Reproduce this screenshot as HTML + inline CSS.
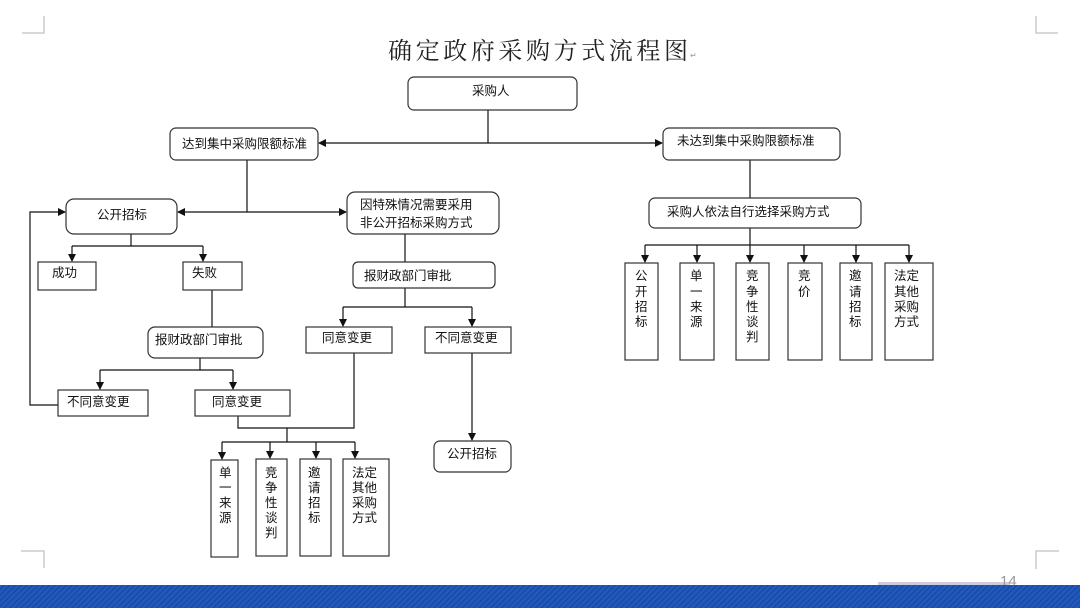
<!DOCTYPE html>
<html><head><meta charset="utf-8"><style>
html,body{margin:0;padding:0;background:#fff;}
svg{display:block;}
text{font-family:"Liberation Sans","Noto Sans CJK SC","WenQuanYi Zen Hei",sans-serif;font-size:12.5px;fill:#111;}
.r{fill:#fff;stroke:#333;stroke-width:1.2;}
.l{stroke:#111;stroke-width:1.2;fill:none;}
.m{fill:#999;font-size:8px;}
</style></head><body>
<svg width="1080" height="608" viewBox="0 0 1080 608" xmlns="http://www.w3.org/2000/svg">
<defs>
<marker id="a" markerWidth="8" markerHeight="8" refX="7" refY="4" orient="auto" markerUnits="userSpaceOnUse"><path d="M0,0 L8,4 L0,8 z" fill="#111"/></marker>
<pattern id="st" width="4" height="4" patternUnits="userSpaceOnUse" patternTransform="rotate(45)"><rect width="4" height="4" fill="#2159bd"/><rect width="1.5" height="4" fill="#1a4aa6"/></pattern>
</defs>
<!-- corners -->
<path d="M22,33 H44 V16" stroke="#ccc" stroke-width="1.5" fill="none"/>
<path d="M1058,33 H1036 V16" stroke="#ccc" stroke-width="1.5" fill="none"/>
<path d="M21,551 H44 V568" stroke="#ccc" stroke-width="1.5" fill="none"/>
<path d="M1059,551 H1036 V569" stroke="#ccc" stroke-width="1.5" fill="none"/>
<!-- title -->
<text x="388" y="59" style="font-size:24px;font-family:'Liberation Serif','Noto Serif CJK SC',serif;fill:#222" textLength="300">确定政府采购方式流程图</text><text x="690" y="58" class="m">↵</text>

<!-- connectors -->
<path class="l" d="M488,110 V143"/>
<path class="l" d="M488,143 H319" marker-end="url(#a)"/>
<path class="l" d="M488,143 H662" marker-end="url(#a)"/>
<path class="l" d="M247,160 V212"/>
<path class="l" d="M247,212 H178" marker-end="url(#a)"/>
<path class="l" d="M247,212 H346" marker-end="url(#a)"/>
<path class="l" d="M131,234 V246 M72,246 H203"/>
<path class="l" d="M72,246 V261" marker-end="url(#a)"/>
<path class="l" d="M203,246 V261" marker-end="url(#a)"/>
<path class="l" d="M212,290 V327"/>
<path class="l" d="M200,358 V370 M100,370 H233"/>
<path class="l" d="M100,370 V389" marker-end="url(#a)"/>
<path class="l" d="M233,370 V389" marker-end="url(#a)"/>
<path class="l" d="M58,405 H30 V212 H65" marker-end="url(#a)"/>
<path class="l" d="M405,234 V262"/>
<path class="l" d="M405,288 V307 M343,307 H472"/>
<path class="l" d="M343,307 V326" marker-end="url(#a)"/>
<path class="l" d="M472,307 V326" marker-end="url(#a)"/>
<path class="l" d="M472,353 V440" marker-end="url(#a)"/>
<path class="l" d="M238,416 V428 H354 V353"/>
<path class="l" d="M287,428 V442 M222,442 H355"/>
<path class="l" d="M222,442 V459" marker-end="url(#a)"/>
<path class="l" d="M270,442 V458" marker-end="url(#a)"/>
<path class="l" d="M316,442 V458" marker-end="url(#a)"/>
<path class="l" d="M355,442 V458" marker-end="url(#a)"/>
<path class="l" d="M750,160 V198"/>
<path class="l" d="M750,228 V245 M645,245 H909"/>
<path class="l" d="M645,245 V262" marker-end="url(#a)"/>
<path class="l" d="M697,245 V262" marker-end="url(#a)"/>
<path class="l" d="M750,245 V262" marker-end="url(#a)"/>
<path class="l" d="M804,245 V262" marker-end="url(#a)"/>
<path class="l" d="M856,245 V262" marker-end="url(#a)"/>
<path class="l" d="M909,245 V262" marker-end="url(#a)"/>

<!-- boxes -->
<rect class="r" x="408" y="77" width="169" height="33" rx="6"/><text x="472" y="95">采购人</text>
<rect class="r" x="170" y="128" width="148" height="32" rx="6"/><text x="182" y="148">达到集中采购限额标准</text>
<rect class="r" x="663" y="128" width="177" height="32" rx="6"/><text x="677" y="145">未达到集中采购限额标准</text>
<rect class="r" x="66" y="199" width="111" height="35" rx="8"/><text x="97" y="219">公开招标</text>
<rect class="r" x="347" y="192" width="152" height="42" rx="8"/><text x="360" y="209">因特殊情况需要采用</text><text x="360" y="227">非公开招标采购方式</text>
<rect class="r" x="38" y="262" width="58" height="28"/><text x="52" y="277">成功</text>
<rect class="r" x="183" y="262" width="59" height="28"/><text x="192" y="277">失败</text>
<rect class="r" x="148" y="327" width="115" height="31" rx="7"/><text x="155" y="344">报财政部门审批</text>
<rect class="r" x="353" y="262" width="142" height="26" rx="5"/><text x="364" y="280">报财政部门审批</text>
<rect class="r" x="58" y="390" width="90" height="26"/><text x="67" y="406">不同意变更</text>
<rect class="r" x="195" y="390" width="95" height="26"/><text x="212" y="406">同意变更</text>
<rect class="r" x="306" y="327" width="86" height="26"/><text x="322" y="342">同意变更</text>
<rect class="r" x="425" y="327" width="86" height="26"/><text x="435" y="342">不同意变更</text>
<rect class="r" x="434" y="441" width="77" height="31" rx="6"/><text x="447" y="458">公开招标</text>
<rect class="r" x="649" y="198" width="212" height="30" rx="6"/><text x="667" y="216">采购人依法自行选择采购方式</text>

<!-- bottom vertical boxes -->
<rect class="r" x="211" y="460" width="27" height="97"/>
<text x="219" y="477">单</text><text x="219" y="492">一</text><text x="219" y="507">来</text><text x="219" y="522">源</text>
<rect class="r" x="256" y="459" width="31" height="97"/>
<text x="265" y="477">竞</text><text x="265" y="492">争</text><text x="265" y="507">性</text><text x="265" y="522">谈</text><text x="265" y="537">判</text>
<rect class="r" x="300" y="459" width="31" height="97"/>
<text x="308" y="477">邀</text><text x="308" y="492">请</text><text x="308" y="507">招</text><text x="308" y="522">标</text>
<rect class="r" x="343" y="459" width="46" height="97"/>
<text x="352" y="477">法定</text><text x="352" y="492">其他</text><text x="352" y="507">采购</text><text x="352" y="522">方式</text>

<rect class="r" x="625" y="263" width="33" height="97"/>
<text x="635" y="280">公</text><text x="635" y="296">开</text><text x="635" y="311">招</text><text x="635" y="326">标</text>
<rect class="r" x="680" y="263" width="34" height="97"/>
<text x="690" y="280">单</text><text x="690" y="296">一</text><text x="690" y="311">来</text><text x="690" y="326">源</text>
<rect class="r" x="736" y="263" width="33" height="97"/>
<text x="746" y="280">竞</text><text x="746" y="296">争</text><text x="746" y="311">性</text><text x="746" y="326">谈</text><text x="746" y="341">判</text>
<rect class="r" x="788" y="263" width="34" height="97"/>
<text x="798" y="280">竞</text><text x="798" y="296">价</text>
<rect class="r" x="840" y="263" width="32" height="97"/>
<text x="849" y="280">邀</text><text x="849" y="296">请</text><text x="849" y="311">招</text><text x="849" y="326">标</text>
<rect class="r" x="885" y="263" width="48" height="97"/>
<text x="894" y="280">法定</text><text x="894" y="296">其他</text><text x="894" y="311">采购</text><text x="894" y="326">方式</text>

<!-- footer -->
<rect x="878" y="582" width="132" height="3" fill="#ccd"/>
<text x="1000" y="586" style="font-size:15px;fill:#999">14</text>
<rect x="0" y="585" width="1080" height="23" fill="url(#st)"/>
</svg>
</body></html>
